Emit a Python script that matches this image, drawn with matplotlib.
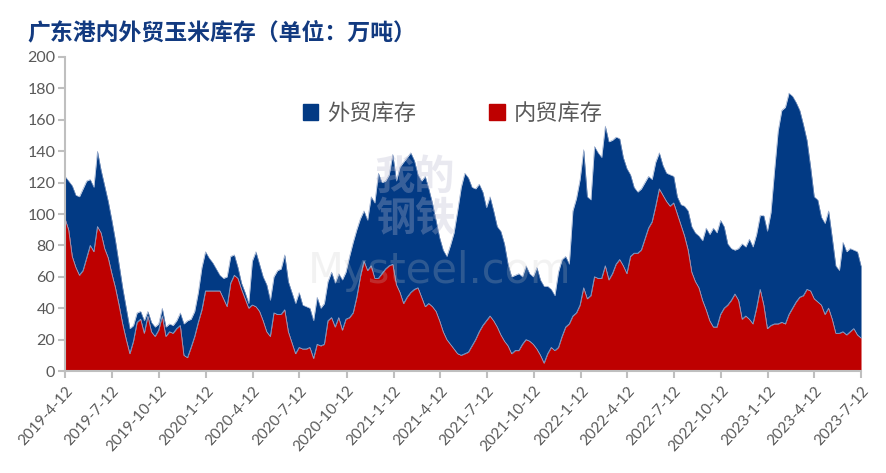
import numpy as np
import pandas as pd
import matplotlib
matplotlib.use('Agg')
import matplotlib.pyplot as plt
from matplotlib.patches import Patch

plt.rcParams['font.family'] = ['Noto Sans CJK SC', 'DejaVu Sans']

# total stock (外贸 + 内贸), weekly, 万吨
total_stock = [
    124, 121, 118, 112, 111, 116, 121, 122, 117, 140, 128, 118, 108, 96, 83, 68, 53, 40, 27, 29,
    37, 38, 32, 38, 31, 28, 30, 40, 28, 30, 29, 32, 37, 30, 32, 33, 38, 50, 66, 76,
    72, 69, 65, 61, 59, 60, 73, 74, 66, 56, 50, 43, 70, 76, 68, 60, 55, 45, 60, 64,
    65, 74, 57, 50, 43, 50, 42, 41, 40, 32, 47, 40, 43, 57, 63, 56, 62, 58, 63, 73,
    82, 90, 97, 102, 96, 111, 107, 126, 120, 121, 125, 138, 121, 130, 133, 136, 139, 134, 125, 121,
    124, 116, 107, 96, 85, 77, 73, 80, 88, 102, 117, 126, 123, 117, 116, 119, 114, 104, 111, 102,
    92, 89, 81, 68, 60, 61, 62, 60, 67, 62, 60, 66, 58, 54, 54, 52, 48, 63, 71, 73,
    68, 102, 110, 122, 141, 111, 109, 143, 139, 136, 156, 146, 147, 149, 148, 136, 129, 125, 117, 114,
    116, 120, 124, 122, 133, 139, 131, 126, 125, 124, 111, 106, 105, 102, 92, 88, 86, 83, 91, 87,
    91, 88, 96, 92, 81, 78, 77, 78, 81, 79, 84, 79, 87, 99, 99, 89, 101, 128, 153, 166,
    168, 177, 175, 171, 166, 157, 147, 130, 111, 109, 98, 94, 102, 85, 67, 64, 82, 76, 78, 77,
    76, 67,
]

# 内贸库存
domestic_stock = [
    97, 90, 73, 66, 61, 64, 72, 80, 76, 92, 88, 78, 72, 62, 53, 42, 30, 20, 11, 19,
    31, 33, 24, 35, 25, 22, 26, 35, 22, 25, 24, 27, 29, 10, 8.5, 15, 22, 31, 39, 51,
    51, 51, 51, 51, 46, 41, 56, 61, 59, 52, 46, 40, 42, 41, 38, 32, 25, 22, 37, 36,
    36, 39, 25, 18, 11, 15, 14, 14, 15, 8, 17, 16, 17, 32, 34, 28, 34, 26, 33, 34,
    37, 47, 60, 70, 64, 67, 59, 59, 62, 65, 67, 68, 55, 50, 43, 47, 50, 52, 53, 47,
    41, 43, 41, 38, 32, 25, 20, 17, 14, 11, 10, 11, 12, 16, 20, 25, 29, 32, 35, 32,
    28, 23, 19, 16, 11, 13, 13, 17, 20, 19, 17, 14, 10, 5, 11, 15, 13, 15, 22, 28,
    30, 35, 37, 42, 53, 46, 48, 60, 59, 59, 67, 58, 62, 68, 71, 67, 62, 73, 75, 75,
    77, 84, 91, 95, 105, 116, 112, 108, 105, 107, 100, 93, 86, 77, 63, 57, 53, 45, 39, 32,
    28, 28, 36, 40, 42, 45, 49, 45, 33, 35, 33, 30, 40, 52, 42, 27, 29, 30, 30, 31,
    30, 36, 40, 44, 47, 48, 52, 51, 46, 44, 42, 36, 40, 33, 24, 24, 25, 23, 25, 27,
    23, 21,
]

dates = pd.date_range('2019-04-12', '2023-07-12', periods=len(total_stock))
tick_dates = pd.date_range('2019-04-01', '2023-07-01', freq='3MS') + pd.Timedelta(days=11)
tick_labels = [f'{d.year}-{d.month}-{d.day}' for d in tick_dates]

blue = '#023A84'
red = '#BE0000'
grey = '#595959'

fig = plt.figure(figsize=(8.86, 4.73), dpi=100)
ax = fig.add_axes([0.0734, 0.2156, 0.8984, 0.6639])

ax.fill_between(dates, domestic_stock, total_stock, color=blue, linewidth=0)
ax.fill_between(dates, 0, domestic_stock, color=red, linewidth=0)
ax.plot(dates, domestic_stock, color='#8FA3C8', linewidth=0.6)
ax.plot(dates, total_stock, color='#8FA3C8', linewidth=0.4)

ax.set_xlim(pd.Timestamp('2019-04-12'), pd.Timestamp('2023-07-12'))
ax.set_ylim(0, 200)
ax.set_yticks(np.arange(0, 201, 20))
ax.set_xticks(tick_dates)
ax.set_xticklabels(tick_labels, rotation=48, ha='right', rotation_mode='anchor')

for s in ['top', 'right']:
    ax.spines[s].set_visible(False)
for s in ['left', 'bottom']:
    ax.spines[s].set_color('#BFBFBF')
    ax.spines[s].set_linewidth(1.5)
ax.tick_params(axis='both', colors='#BFBFBF', width=1.5, length=5, labelcolor=grey)
ax.tick_params(axis='y', labelsize=11.5, pad=2)
ax.tick_params(axis='x', labelsize=11, pad=4)
for lab in ax.get_xticklabels() + ax.get_yticklabels():
    lab.set_family(['Lato', 'DejaVu Sans'])

# faint watermark
ax.text(0.44, 0.55, '我的\n钢铁', transform=ax.transAxes, fontsize=29, color='#B8B8D0',
        alpha=0.3, ha='center', va='center', fontweight='bold', linespacing=1.05)
ax.text(0.47, 0.32, 'Mysteel.com', transform=ax.transAxes, fontsize=30, color='#C8C8C8',
        alpha=0.22, ha='center', va='center', family=['DejaVu Sans'])

handles = [Patch(color=blue), Patch(color=red)]
ax.legend(handles, ['外贸库存', '内贸库存'], loc='center', bbox_to_anchor=(0.487, 0.82),
          ncol=2, frameon=False, fontsize=16, labelcolor=grey, handlelength=0.7,
          handleheight=0.7, handletextpad=0.4, columnspacing=3.3)

fig.text(0.031, 0.93, '广东港内外贸玉米库存（单位：万吨）', fontsize=16.5, fontweight='bold',
         color='#123A80', ha='left', va='center')

fig.savefig('out.png', dpi=100)
